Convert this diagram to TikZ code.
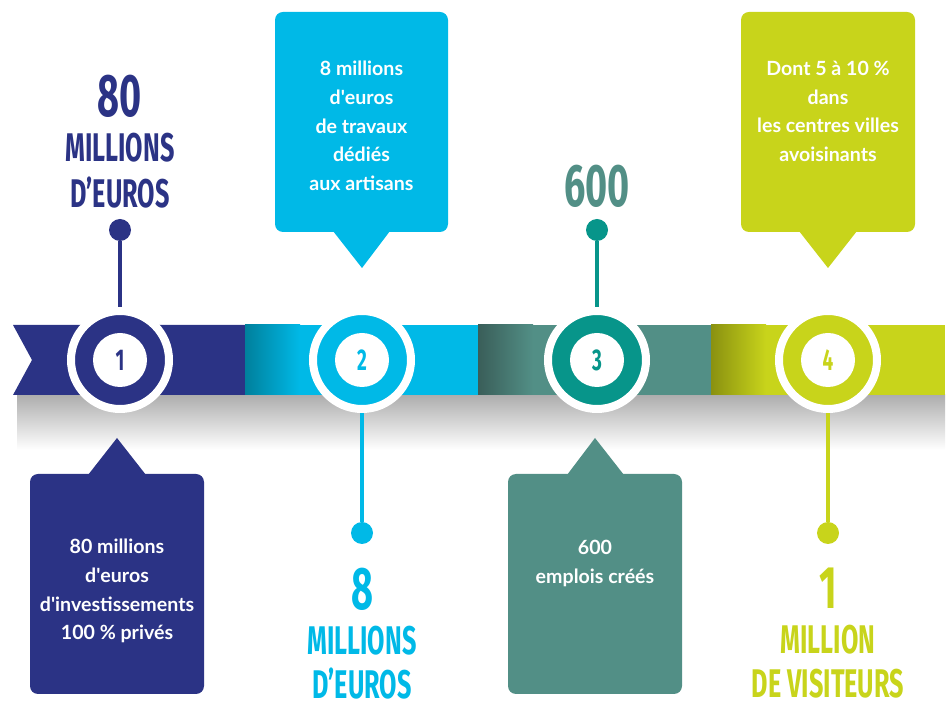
\documentclass[tikz,border=0pt]{standalone}
\usepackage{fontspec}
\setmainfont{Lato}
\newfontfamily\bebas[FakeStretch=0.63]{Fira Sans}
\definecolor{navyA}{HTML}{2B3385}
\definecolor{cyanA}{HTML}{00B9E7}
\definecolor{cyanD}{HTML}{00809C}
\definecolor{tealA}{HTML}{528F86}
\definecolor{tealD}{HTML}{3A5E59}
\definecolor{tealR}{HTML}{07958A}
\definecolor{limeA}{HTML}{C8D41B}
\definecolor{limeD}{HTML}{8A9110}
\newcommand{\apos}{\textquotesingle}
\begin{document}
\begin{tikzpicture}[x=0.5pt, y=-0.5pt,
    boxtext/.style={text=white, font=\fontsize{9.8}{14.3}\selectfont\bfseries, align=center, anchor=north, inner sep=0pt},
    bignum/.style={font=\fontsize{30}{30}\selectfont\bebas\bfseries, anchor=base, inner sep=0pt},
    bigword/.style={font=\fontsize{20}{20}\selectfont\bebas\bfseries, anchor=base, inner sep=0pt},
    ringnode/.style={circle, draw=white, line width=4pt, minimum size=49pt, inner sep=0pt},
    corenode/.style={circle, fill=white, minimum size=27pt, inner sep=0pt, font=\fontsize{15}{15}\selectfont\bebas\bfseries},
    dot/.style={circle, inner sep=0pt, minimum size=11pt},
    stem/.style={line width=2.3pt}]
    \useasboundingbox (0,0) rectangle (949,705);

    % Shadow under the band
    \shade[top color=black!32, bottom color=white] (17,395) rectangle (945,450);

    % Band segments
    \fill[navyA] (13,325) -- (245,325) -- (245,395) -- (13,395) -- (32,360) -- cycle;
    \fill[cyanA] (245,325) rectangle (478,395);
    \shade[left color=cyanD, right color=cyanA] (245,325) rectangle (300,395);
    \fill[tealA] (478,325) rectangle (711,395);
    \shade[left color=tealD, right color=tealA] (478,325) rectangle (533,395);
    \fill[limeA] (711,325) rectangle (945,395);
    \shade[left color=limeD, right color=limeA] (711,325) rectangle (766,395);

    % Callouts above
    \fill[cyanA, rounded corners=4pt] (275,12) rectangle (448,232);
    \fill[cyanA] (333,231) -- (362,268) -- (390,231) -- cycle;
    \fill[limeA, rounded corners=4pt] (741,12) rectangle (915,232);
    \fill[limeA] (799,231) -- (828,268) -- (857,231) -- cycle;

    % Callouts below
    \fill[navyA, rounded corners=4pt] (30,474) rectangle (204,694);
    \fill[navyA] (88,475) -- (117,438) -- (146,475) -- cycle;
    \fill[tealA, rounded corners=4pt] (508,474) rectangle (682,694);
    \fill[tealA] (567,475) -- (595,438) -- (624,475) -- cycle;

    \node[boxtext] (txtA) at (361.5,61) {8 millions\\d\apos euros\\de travaux\\dédiés\\aux artisans};
    \node[boxtext] (txtD) at (828,61) {Dont 5 à 10 \%\\dans\\les centres villes\\avoisinants};
    \node[boxtext] (txtB) at (117,539) {80 millions\\d\apos euros\\d\apos investissements\\100 \% privés};
    \node[boxtext] (txtC) at (595,540) {600\\emplois créés};

    % Rings on the band
    \foreach \i/\x/\c in {1/120/navyA, 2/362/cyanA, 3/597/tealR, 4/828/limeA} {
        \node[ringnode, fill=\c] (ring\i) at (\x,360) {};
        \node[corenode, text=\c] (core\i) at (\x,360) {\i};
    }

    % Dots and stems
    \node[dot, fill=navyA] (dot1) at (120,230) {};
    \node[dot, fill=cyanA] (dot2) at (362,533) {};
    \node[dot, fill=tealR] (dot3) at (597,230) {};
    \node[dot, fill=limeA] (dot4) at (828,533) {};
    \draw[stem, navyA] (dot1) -- (ring1);
    \draw[stem, cyanA] (dot2) -- (ring2);
    \draw[stem, tealR] (dot3) -- (ring3);
    \draw[stem, limeA] (dot4) -- (ring4);

    % Key figures
    \node[bignum, text=navyA] (num1) at (120,117) {80};
    \node[bigword, text=navyA] (word1a) at (120,162) {MILLIONS};
    \node[bigword, text=navyA] (word1b) at (120,208) {D’EUROS};
    \node[bignum, text=tealA] (num3) at (597,207) {600};
    \node[bignum, text=cyanA] (num2) at (362,610) {8};
    \node[bigword, text=cyanA] (word2a) at (362,655) {MILLIONS};
    \node[bigword, text=cyanA] (word2b) at (362,699) {D’EUROS};
    \node[bignum, text=limeA] (num4) at (828,609) {1};
    \node[bigword, text=limeA] (word4a) at (828,654) {MILLION};
    \node[bigword, text=limeA] (word4b) at (828,698) {DE VISITEURS};
\end{tikzpicture}
\end{document}
